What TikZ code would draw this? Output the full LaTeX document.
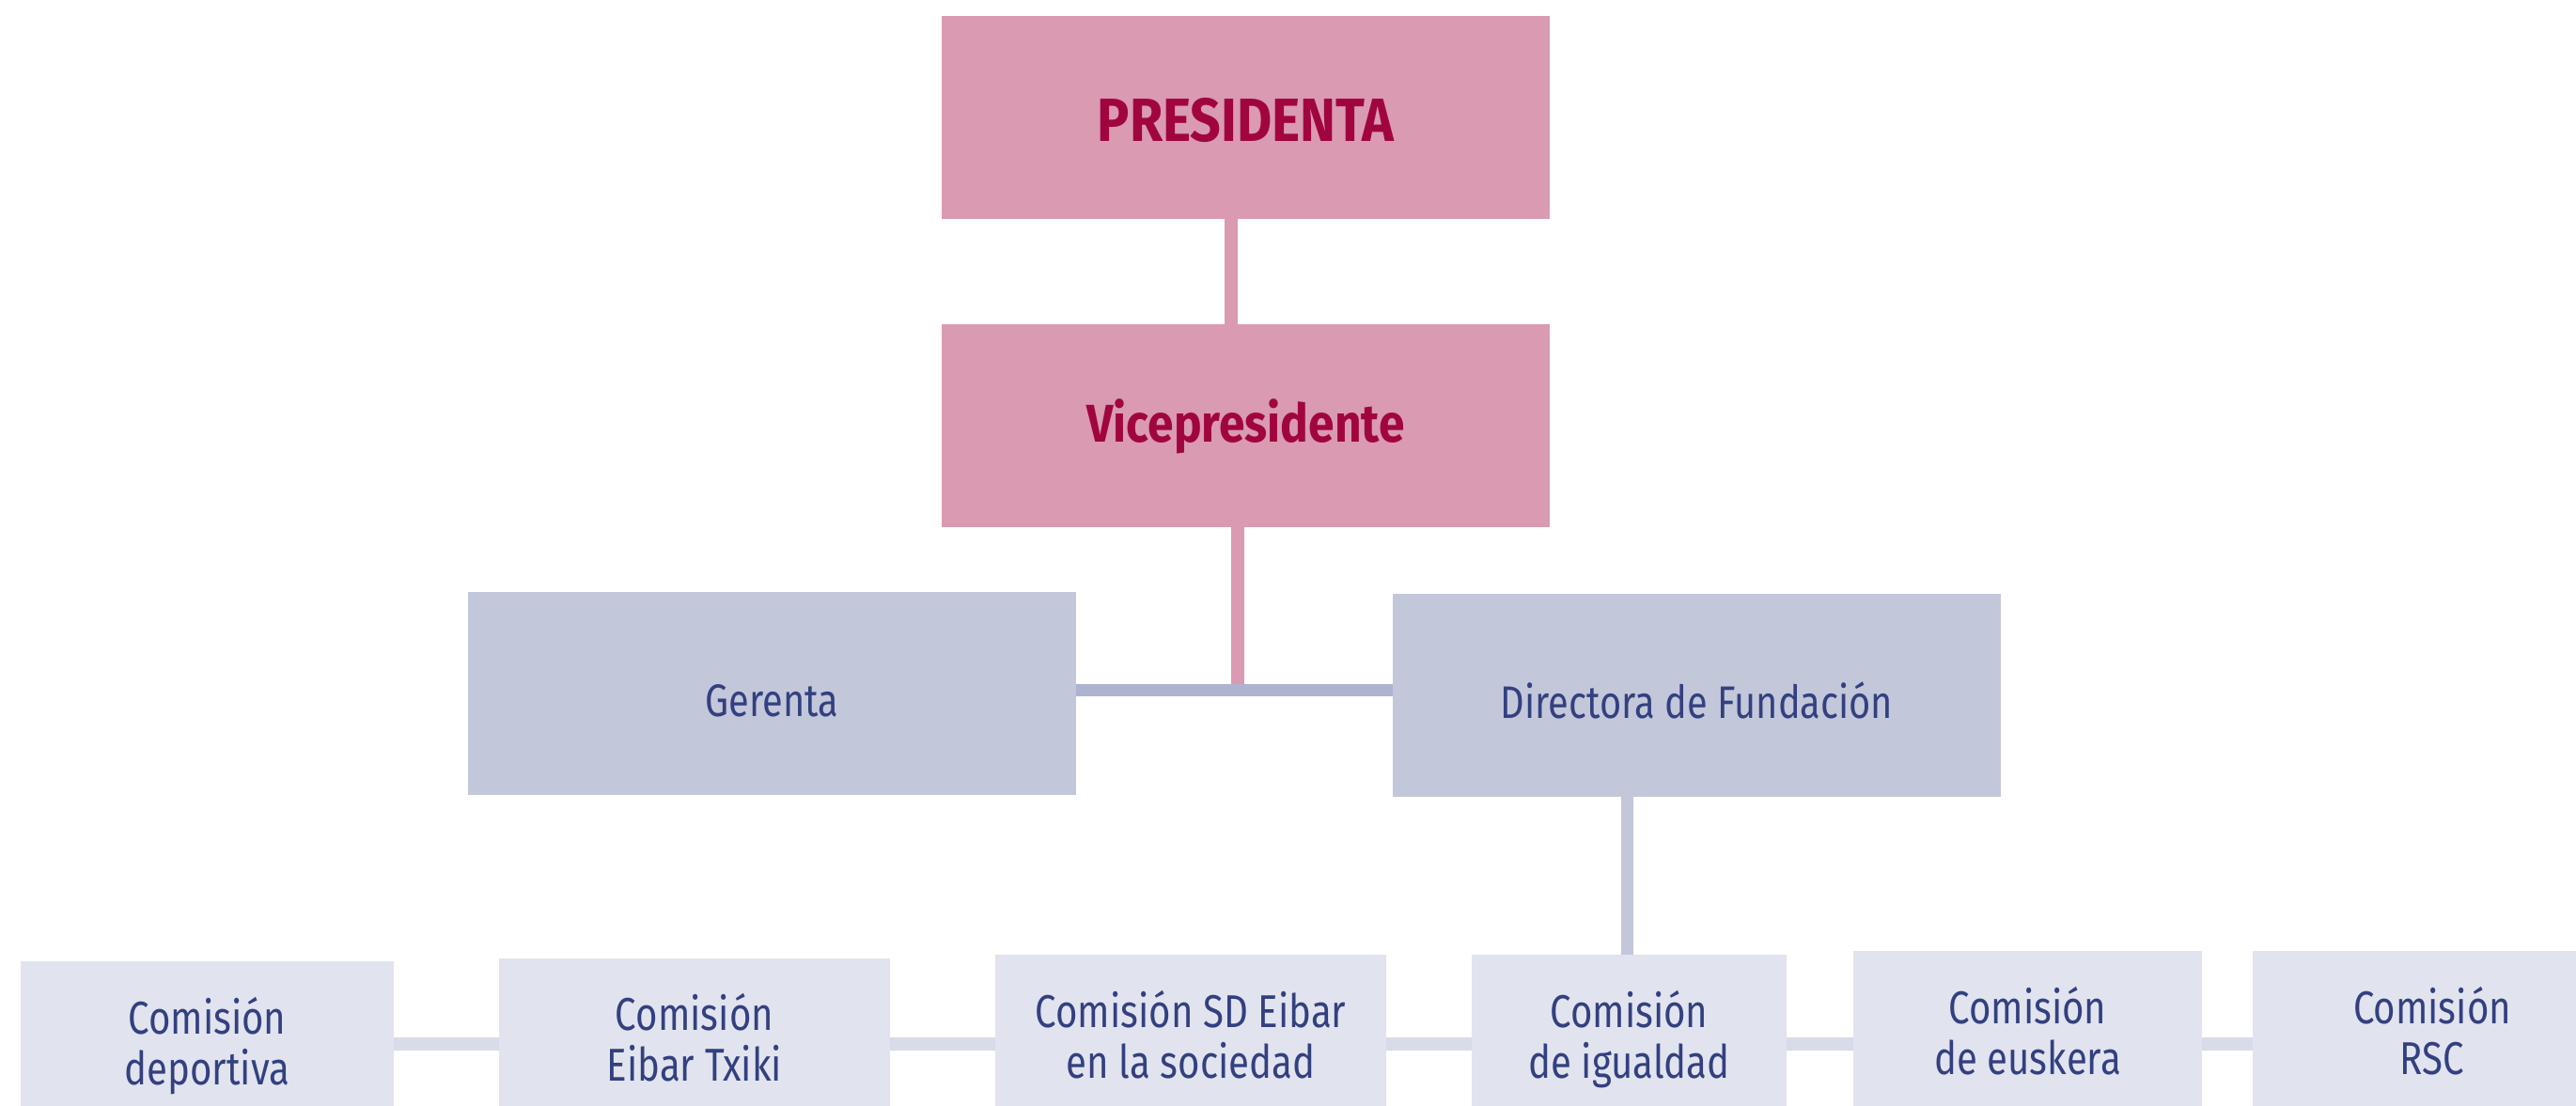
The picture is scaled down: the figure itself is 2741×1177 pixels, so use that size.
\documentclass[tikz,border=0pt]{standalone}
\usepackage{fontspec}
\newfontfamily\cond{Fira Sans}[FakeStretch=0.82]
\newfontfamily\condbold{Fira Sans}[FakeStretch=0.88]
\definecolor{pinkfill}{HTML}{D99AB2}
\definecolor{pinktext}{HTML}{A1053F}
\definecolor{grayfill}{HTML}{C3C7DA}
\definecolor{navy}{HTML}{334080}
\definecolor{barcol}{HTML}{AEB3CF}
\definecolor{lightfill}{HTML}{E1E4EE}
\definecolor{chaincol}{HTML}{D8DBE8}
\newcommand\twoln[2]{\vtop{\baselineskip=54pt\halign{\hfil##\hfil\cr#1\cr#2\cr}}}
\begin{document}
\begin{tikzpicture}[x=1pt,y=-1pt,
  boxbase/.style={rectangle,inner sep=0pt,draw=none},
  topbox/.style={boxbase,fill=pinkfill,text=pinktext,minimum width=647pt,minimum height=216pt},
  midbox/.style={boxbase,fill=grayfill,text=navy,minimum width=647pt,minimum height=216pt,
    font=\cond\fontsize{48.5}{54}\selectfont,text height=48pt,text depth=0pt},
  combox/.style={boxbase,fill=lightfill,text=navy,minimum height=180pt,anchor=north,
    font=\cond\fontsize{49}{54}\selectfont,text height=40pt,text depth=66pt},
  pinkline/.style={draw=pinkfill,line width=13.5pt},
  barline/.style={draw=barcol,line width=13pt},
  dirline/.style={draw=grayfill,line width=13pt},
  chainline/.style={draw=chaincol,line width=14pt}]
\useasboundingbox (0,0) rectangle (2741,1177);
\clip (0,0) rectangle (2741,1177);
\fill[white] (0,0) rectangle (2741,1177);
% top boxes
\node[topbox,font=\condbold\bfseries\fontsize{65}{70}\selectfont,text height=51pt,text depth=0pt] (pres) at (1325.5,125) {PRESIDENTA};
\node[topbox,font=\condbold\bfseries\fontsize{56.5}{62}\selectfont,text height=44pt,text depth=10pt] (vice) at (1325.5,453) {Vicepresidente};
% middle boxes
\node[midbox] (ger) at (821.5,738) {Gerenta};
\node[midbox] (dir) at (1805.5,740) {Directora de Fundación};
% bottom boxes
\node[combox,minimum width=397pt] (c1) at (220.5,1023) {\twoln{Comisión}{deportiva}};
\node[combox,minimum width=416pt] (c2) at (739,1019.5) {\twoln{Comisión}{Eibar Txiki}};
\node[combox,minimum width=416pt] (c3) at (1267,1016) {\twoln{Comisión SD Eibar}{en la sociedad}};
\node[combox,minimum width=335pt] (c4) at (1733.5,1016) {\twoln{Comisión}{de igualdad}};
\node[combox,minimum width=371pt] (c5) at (2157.5,1012) {\twoln{Comisión}{de euskera}};
\node[combox,minimum width=382pt] (c6) at (2588,1012) {\twoln{Comisión}{RSC}};
% connectors
\coordinate (j) at (1317,734.5);
\coordinate (k) at (0,1111);
\draw[pinkline] ([xshift=-15.5pt]pres.south) -- ([xshift=-15.5pt]vice.north);
\draw[pinkline] ([xshift=-8.5pt]vice.south) -- ([yshift=6pt]j);
\draw[barline] (ger.east |- j) -- (dir.west |- j);
\draw[dirline] ([xshift=-74pt]dir.south) -- ([xshift=-74pt]dir.south |- c4.north);
\draw[chainline] (c1.east |- k) -- (c2.west |- k);
\draw[chainline] (c2.east |- k) -- (c3.west |- k);
\draw[chainline] (c3.east |- k) -- (c4.west |- k);
\draw[chainline] (c4.east |- k) -- (c5.west |- k);
\draw[chainline] (c5.east |- k) -- (c6.west |- k);
\end{tikzpicture}
\end{document}
